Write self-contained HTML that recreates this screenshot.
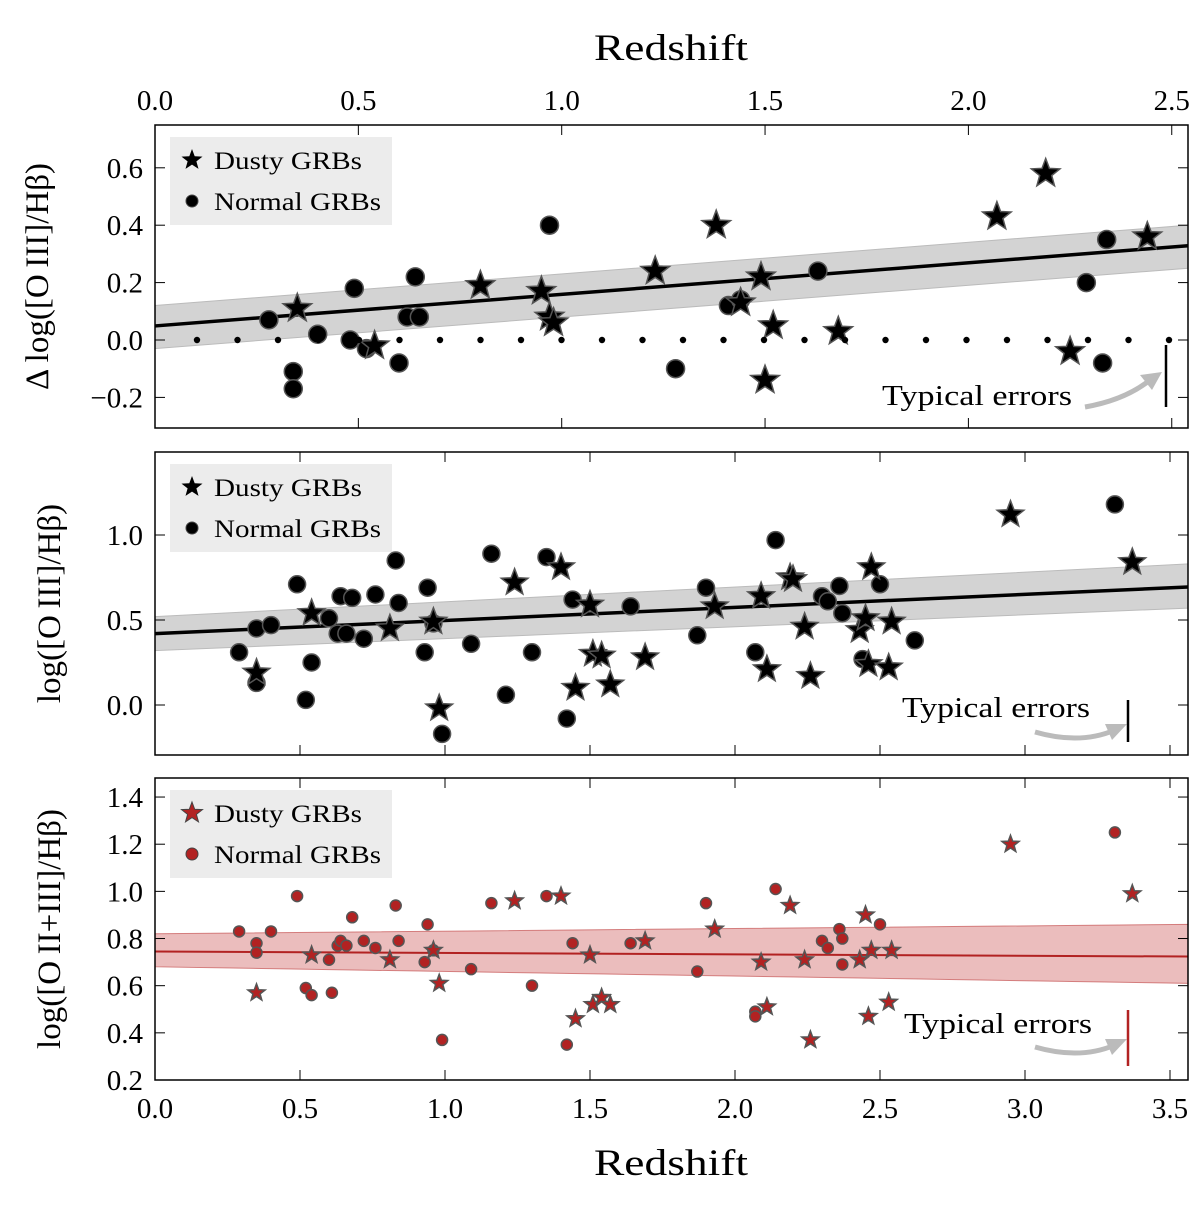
<!DOCTYPE html>
<html><head><meta charset="utf-8"><style>
body{margin:0;background:#fff}
svg{display:block;font-family:"Liberation Serif",serif}
</style></head><body>
<svg id="c" width="1200" height="1205" viewBox="0 0 1200 1205"></svg>
<script>
// Panel 1 data (Delta log OIII/Hb)
const p1CircleZ=[0.28,0.34,0.34,0.40,0.49,0.48,0.52,0.60,0.62,0.64,0.65,0.97,1.28,1.41,1.44,1.63,2.29,2.33,2.34];
const p1CircleV=[0.07,-0.11,-0.17,0.02,0.18,0.0,-0.03,-0.08,0.08,0.22,0.08,0.40,-0.10,0.12,0.14,0.24,0.20,-0.08,0.35];
const p1StarZ=[0.35,0.54,0.80,0.95,0.97,0.98,1.23,1.38,1.44,1.49,1.52,1.50,1.68,2.07,2.19,2.25,2.44];
const p1StarV=[0.11,-0.02,0.19,0.17,0.08,0.06,0.24,0.40,0.13,0.22,0.05,-0.14,0.03,0.43,0.58,-0.04,0.36];
const p1Fit=[0.049,0.11];
const p1Ticks=[0.0,0.5,1.0,1.5,2.0,2.5];
const p1YTicks=[-0.2,0.0,0.2,0.4,0.6];
// Panel 2 data (log OIII/Hb)
const p2CircleZ=[0.29,0.35,0.35,0.40,0.49,0.52,0.54,0.60,0.63,0.64,0.66,0.68,0.72,0.76,0.83,0.84,0.93,0.94,0.96,0.99,1.09,1.16,1.21,1.30,1.35,1.42,1.44,1.64,1.87,1.90,2.07,2.14,2.30,2.36,2.37,2.32,2.44,2.50,2.62,3.31];
const p2CircleV=[0.31,0.45,0.13,0.47,0.71,0.03,0.25,0.51,0.42,0.64,0.42,0.63,0.39,0.65,0.85,0.60,0.31,0.69,0.48,-0.17,0.36,0.89,0.06,0.31,0.87,-0.08,0.62,0.58,0.41,0.69,0.31,0.97,0.64,0.70,0.54,0.61,0.27,0.71,0.38,1.18];
const p2StarZ=[0.35,0.54,0.81,0.96,0.98,1.24,1.40,1.50,1.51,1.54,1.45,1.57,1.69,1.93,2.09,2.11,2.19,2.20,2.24,2.26,2.43,2.45,2.46,2.47,2.53,2.54,2.95,3.37];
const p2StarV=[0.19,0.54,0.45,0.49,-0.02,0.72,0.81,0.59,0.30,0.29,0.10,0.12,0.28,0.58,0.64,0.21,0.75,0.74,0.46,0.17,0.44,0.51,0.24,0.81,0.22,0.49,1.12,0.84];
const p2Fit=[0.42,0.077];
const p2YTicks=[0.0,0.5,1.0];
// Panel 3 data (log OII+III / Hb)
const p3CircleZ=[0.29,0.35,0.35,0.40,0.49,0.52,0.54,0.60,0.63,0.64,0.66,0.68,0.72,0.76,0.83,0.84,0.93,0.94,0.96,0.99,1.09,1.16,1.30,1.35,1.42,1.44,1.64,1.87,1.90,2.07,2.07,2.14,2.30,2.36,2.37,2.32,2.37,2.50,3.31,0.61];
const p3CircleV=[0.83,0.78,0.74,0.83,0.98,0.59,0.56,0.71,0.77,0.79,0.77,0.89,0.79,0.76,0.94,0.79,0.70,0.86,0.75,0.37,0.67,0.95,0.60,0.98,0.35,0.78,0.78,0.66,0.95,0.49,0.47,1.01,0.79,0.84,0.80,0.76,0.69,0.86,1.25,0.57];
const p3StarZ=[0.35,0.54,0.81,0.96,0.98,1.24,1.40,1.50,1.51,1.54,1.45,1.57,1.69,1.93,2.09,2.11,2.19,2.24,2.26,2.43,2.45,2.46,2.47,2.53,2.54,2.95,3.37];
const p3StarV=[0.57,0.73,0.71,0.75,0.61,0.96,0.98,0.73,0.52,0.55,0.46,0.52,0.79,0.84,0.70,0.51,0.94,0.71,0.37,0.71,0.90,0.47,0.75,0.53,0.75,1.20,0.99];
const p3Fit=[0.745,-0.006];
const p3YTicks=[0.2,0.4,0.6,0.8,1.0,1.2,1.4];
const bottomTicks=[0.0,0.5,1.0,1.5,2.0,2.5,3.0,3.5];

const NS="http://www.w3.org/2000/svg";
const svg=document.getElementById('c');
function mk(tag,attrs,parent,text){const e=document.createElementNS(NS,tag);for(const k in attrs)e.setAttribute(k,attrs[k]);if(text!==undefined)e.textContent=text;(parent||svg).appendChild(e);return e;}
const L=155,R=1188;
const xTop=z=>L+z*406.7, xBot=z=>L+z*290;
const y1=v=>340-v*287, y2=v=>705-v*170, y3=v=>1080-(v-0.2)*235.8;
function fmt(v){return (v<0?"\u2212":"")+Math.abs(v).toFixed(1);}
function starPath(cx,cy,r){let d="";for(let i=0;i<10;i++){const a=-Math.PI/2+i*Math.PI/5;const rr=i%2?r*0.42:r;d+=(i?"L":"M")+(cx+rr*Math.cos(a)).toFixed(1)+","+(cy+rr*Math.sin(a)).toFixed(1);}return d+"Z";}

function panel(top,bot,xf,yf,yt,ticksX,fill,rC,rS,cz,cv,sz,sv,fit,band,errY,errCol,errText,ylabel,name){
  const g=mk('g',{});
  const zmax=(R-L)/(xf(1)-L);
  const pts=[[0,band[0]],[zmax,band[1]],[zmax,band[2]],[0,band[3]]].map(p=>xf(p[0])+","+yf(p[1])).join(" ");
  const b=mk('polygon',{points:pts,fill:band[4],stroke:band[5],'stroke-width':1},g);
  
  const fl=mk('line',{x1:L,y1:yf(fit[0]),x2:R,y2:yf(fit[0]+fit[1]*zmax),stroke:band[6],'stroke-width':band[7]},g);
  
  const lg=mk('g',{},g);
  mk('rect',{x:170,y:top+12,width:222,height:88,fill:'#ececec'},lg);
  mk('path',{d:starPath(192,top+35,11),fill:fill,stroke:'#444','stroke-width':fill==='#000'?0:1},lg);
  mk('circle',{cx:192,cy:top+76,r:6,fill:fill,stroke:'#444','stroke-width':1},lg);
  mk('text',{x:214,y:top+44,'font-size':25,textLength:148,lengthAdjust:'spacingAndGlyphs'},lg,'Dusty GRBs');
  mk('text',{x:214,y:top+85,'font-size':25,textLength:167,lengthAdjust:'spacingAndGlyphs'},lg,'Normal GRBs');
  cz.forEach((z,i)=>{const c=mk('circle',{cx:xf(z),cy:yf(cv[i]),r:rC,fill:fill,stroke:'#555','stroke-width':1.5},g);
    });
  sz.forEach((z,i)=>{const s=mk('path',{d:starPath(xf(z),yf(sv[i]),rS),fill:fill,stroke:'#555','stroke-width':1.5},g);
    });
  mk('text',{x:errText[0],y:errText[1],'font-size':28,textLength:errText[4],lengthAdjust:'spacingAndGlyphs'},g,'Typical errors');
  mk('path',{d:errText[2],fill:'none',stroke:'#bbb','stroke-width':5},g);
  mk('path',{d:errText[3],fill:'#bbb'},g);
  mk('line',{x1:errY[0],y1:errY[1],x2:errY[0],y2:errY[2],stroke:errCol,'stroke-width':2.5},g);
  mk('rect',{x:L,y:top,width:R-L,height:bot-top,fill:'none',stroke:'#000','stroke-width':1.5},g);
  ticksX.forEach(t=>{const x=xf(t);mk('line',{x1:x,y1:bot,x2:x,y2:bot-10,stroke:'#000'},g);mk('line',{x1:x,y1:top,x2:x,y2:top+10,stroke:'#000'},g);});
  yt.forEach(t=>{const y=yf(t);mk('line',{x1:L,y1:y,x2:L+10,y2:y,stroke:'#000'},g);mk('line',{x1:R,y1:y,x2:R-10,y2:y,stroke:'#000'},g);
    mk('text',{x:L-12,y:y+10,'font-size':29,'text-anchor':'end'},g,fmt(t));});
  const yl=mk('text',{x:0,y:0,'font-size':33,'text-anchor':'middle',transform:`translate(${ylabel[1]},${(top+bot)/2}) rotate(-90)`},g,ylabel[0]);
  
}
// Panel 1
panel(125,428,xTop,y1,p1YTicks,p1Ticks,'#000',9,15,p1CircleZ,p1CircleV,p1StarZ,p1StarV,p1Fit,
 [0.12,0.40,0.25,-0.03,'#d3d3d3','#bbb','#000',3.5],[1166,345,407],'#000',
 [882,405,"M1085,407 Q1125,400 1150,380","M1162,372 L1140,375 L1152,390 Z",190],["\u0394 log([O\u2009III]/H\u03b2)",48],'panel-delta-oiii');
for(let x=197;x<=1170;x+=40.5){const d=mk('circle',{cx:x,cy:y1(0),r:3.2,fill:'#000'});}
p1Ticks.forEach(t=>mk('text',{x:xTop(t),y:110,'font-size':29,'text-anchor':'middle'},svg,t.toFixed(1)));
const tt=mk('text',{x:594,y:60,'font-size':37,textLength:154,lengthAdjust:'spacingAndGlyphs'},svg,'Redshift');
// Panel 2
panel(452,755,xBot,y2,p2YTicks,bottomTicks,'#000',8.5,14,p2CircleZ,p2CircleV,p2StarZ,p2StarV,p2Fit,
 [0.52,0.83,0.57,0.32,'#d3d3d3','#bbb','#000',3.5],[1128,700,742],'#000',
 [902,717,"M1035,732 Q1080,745 1115,730","M1127,724 L1105,724 L1112,740 Z",188],["log([O\u2009III]/H\u03b2)",60],'panel-oiii');
// Panel 3
panel(778,1080,xBot,y3,p3YTicks,bottomTicks,'#b22222',5.5,9,p3CircleZ,p3CircleV,p3StarZ,p3StarV,p3Fit,
 [0.82,0.86,0.61,0.68,'rgba(205,90,90,0.4)','rgba(190,60,60,0.6)','#b22222',2],[1128,1010,1066],'#b22222',
 [904,1033,"M1035,1047 Q1080,1060 1115,1045","M1127,1039 L1105,1039 L1112,1055 Z",188],["log([O\u2009II+III]/H\u03b2)",60],'panel-oii-iii');
bottomTicks.forEach(t=>mk('text',{x:xBot(t),y:1118,'font-size':29,'text-anchor':'middle'},svg,t.toFixed(1)));
const bt=mk('text',{x:594,y:1175,'font-size':37,textLength:154,lengthAdjust:'spacingAndGlyphs'},svg,'Redshift');
</script>
</body></html>
